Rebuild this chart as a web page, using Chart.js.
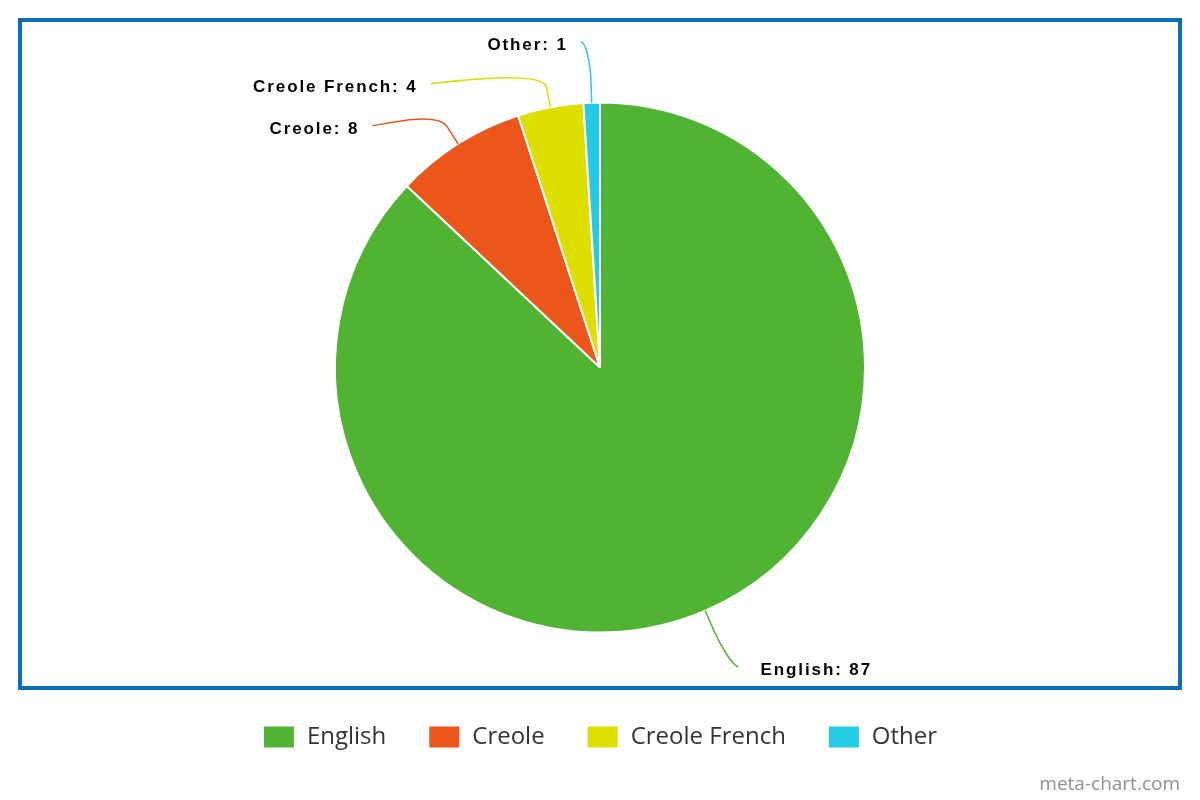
<!DOCTYPE html>
<html>
<head>
<meta charset="utf-8">
<script src="https://cdn.jsdelivr.net/npm/chart.js@4.4.1/dist/chart.umd.min.js"></script>
<style>
html,body{margin:0;padding:0;background:#fff;}
#wrap{width:1200px;height:800px;position:relative;}
</style>
</head>
<body>
<div id="wrap"><canvas id="c" width="1200" height="800"></canvas></div>
<script>
const categories = ['English', 'Creole', 'Creole French', 'Other'];
const values = [87, 8, 4, 1];
const colors = ['#50B432', '#ED561B', '#DDDF00', '#24CBE5'];
const creditText = 'meta-chart.com';

const frameAndCredit = {
  id: 'frameAndCredit',
  afterDraw(chart) {
    const ctx = chart.ctx;
    ctx.save();
    ctx.strokeStyle = '#0A6EBD';
    ctx.lineWidth = 4;
    ctx.strokeRect(20, 20, 1160, 668);
    ctx.fillStyle = '#909090';
    ctx.font = '19px "Open Sans"';
    ctx.textAlign = 'right';
    ctx.textBaseline = 'alphabetic';
    ctx.fillText(creditText, 1180, 790);
    ctx.restore();
  }
};

const pieLabels = {
  id: 'pieLabels',
  afterDatasetsDraw(chart) {
    const ctx = chart.ctx;
    const meta = chart.getDatasetMeta(0);
    const items = meta.data.map((arc, i) => {
      const a = (arc.startAngle + arc.endAngle) / 2;
      const r = arc.outerRadius;
      const R = r + 61;
      return {
        i, a, r, cx: arc.x, cy: arc.y,
        left: Math.cos(a) < 0,
        ny: arc.y + R * Math.sin(a),
        R
      };
    });
    ['left', 'right'].forEach(side => {
      const group = items.filter(it => (side === 'left') === it.left).sort((p, q) => p.ny - q.ny);
      let prev = -Infinity;
      group.forEach(it => {
        it.y = Math.max(it.ny, prev + 42);
        prev = it.y;
      });
    });
    ctx.save();
    items.forEach(it => {
      const dir = it.left ? -1 : 1;
      const dy = it.y - it.cy;
      const dx = Math.sqrt(Math.max(0, it.R * it.R - dy * dy)) + 9;
      const lx = it.cx + dir * dx;
      const ly = it.y;
      const tx = it.cx + it.r * Math.cos(it.a);
      const ty = it.cy + it.r * Math.sin(it.a);
      const bx = it.cx + (it.r + 20) * Math.cos(it.a);
      const by = it.cy + (it.r + 20) * Math.sin(it.a);
      ctx.strokeStyle = colors[it.i];
      ctx.lineWidth = 1.5;
      ctx.beginPath();
      ctx.moveTo(lx, ly);
      ctx.bezierCurveTo(lx - dir * 5, ly, 2 * bx - tx, 2 * by - ty, bx, by);
      ctx.lineTo(tx, ty);
      ctx.stroke();
      ctx.fillStyle = '#000';
      ctx.font = 'bold 17px "Liberation Sans", Arial, sans-serif';
      try { ctx.letterSpacing = '1.9px'; } catch (e) {}
      ctx.textBaseline = 'middle';
      ctx.textAlign = it.left ? 'right' : 'left';
      const text = categories[it.i] + ': ' + values[it.i];
      ctx.fillText(text, lx + dir * (it.left ? 13 : 22), ly + 4);
    });
    try { ctx.letterSpacing = '0px'; } catch (e) {}
    ctx.restore();
  }
};

new Chart(document.getElementById('c'), {
  type: 'pie',
  data: {
    labels: categories,
    datasets: [{
      data: values,
      backgroundColor: colors,
      borderColor: '#ffffff',
      borderWidth: 2,
      hoverOffset: 0
    }]
  },
  options: {
    responsive: false,
    animation: false,
    radius: 265,
    layout: { padding: { top: 52, bottom: 41, left: 0, right: 0 } },
    plugins: {
      tooltip: { enabled: false },
      legend: {
        position: 'bottom',
        labels: {
          boxWidth: 32,
          boxHeight: 23,
          padding: 42,
          color: '#333333',
          font: { family: '"Open Sans"', size: 24 }
        }
      }
    }
  },
  plugins: [pieLabels, frameAndCredit]
});
</script>
</body>
</html>
